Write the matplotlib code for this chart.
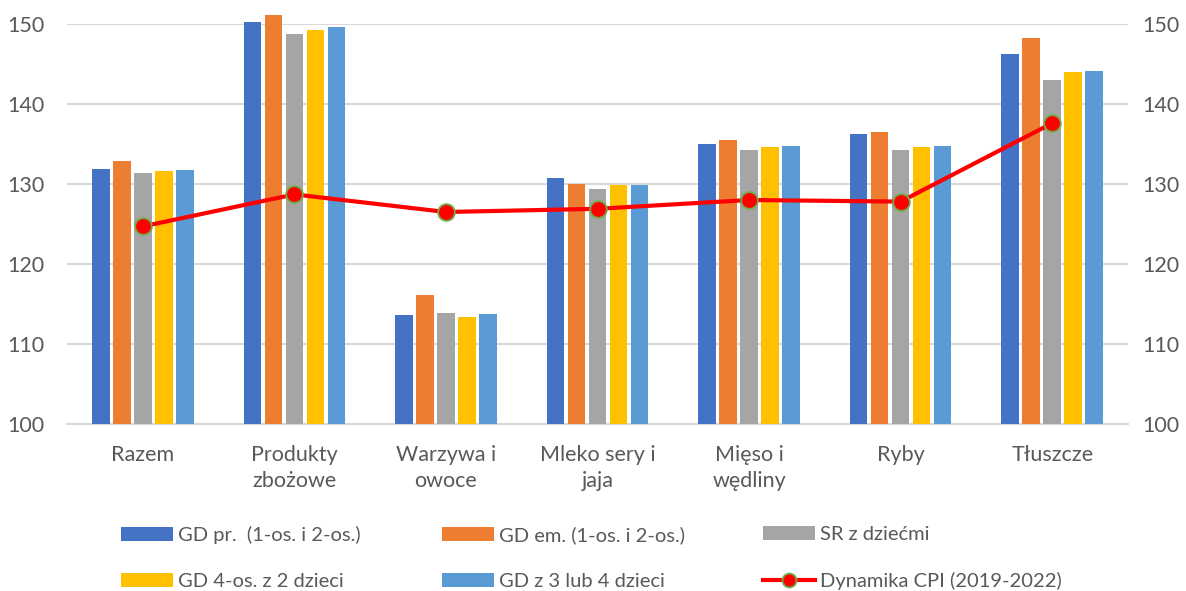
import matplotlib.pyplot as plt
from matplotlib.lines import Line2D
from matplotlib.patches import Patch
import numpy as np

plt.rcParams['font.family'] = ['Lato', 'DejaVu Sans']

categories = ['Razem', 'Produkty\nzbożowe', 'Warzywa i\nowoce', 'Mleko sery i\njaja',
              'Mięso i\nwędliny', 'Ryby', 'Tłuszcze']
series_names = ['GD pr.  (1-os. i 2-os.)', 'GD em. (1-os. i 2-os.)', 'SR z dziećmi',
                'GD 4-os. z 2 dzieci', 'GD z 3 lub 4 dzieci']
gd_pr = [131.9, 150.3, 113.6, 130.8, 135.0, 136.3, 146.2]
gd_em = [132.9, 151.1, 116.1, 130.0, 135.5, 136.5, 148.2]
sr_dzieci = [131.4, 148.7, 113.9, 129.4, 134.3, 134.3, 143.0]
gd_4os = [131.6, 149.2, 113.4, 129.9, 134.6, 134.6, 144.0]
gd_3lub4 = [131.75, 149.6, 113.75, 129.9, 134.7, 134.7, 144.1]
cpi = [124.7, 128.7, 126.5, 126.9, 128.0, 127.8, 137.6]
cpi_name = 'Dynamika CPI (2019-2022)'

colors = ['#4472C4', '#ED7D31', '#A5A5A5', '#FFC000', '#5B9BD5']
text_col = '#595959'
grid_col = '#D9D9D9'

fig = plt.figure(figsize=(11.86, 5.91), dpi=100)
ax = fig.add_axes([67 / 1186, 1 - 424 / 591, (1128 - 67) / 1186, 400 / 591])

x = np.arange(len(categories))
pitch = 0.1386
bw = 0.116
handles = []
for k, (vals, c) in enumerate(zip([gd_pr, gd_em, sr_dzieci, gd_4os, gd_3lub4], colors)):
    ax.bar(x + (k - 2) * pitch, np.array(vals) - 100, bottom=100, width=bw, color=c,
           zorder=3, clip_on=False)
    handles.append(Patch(facecolor=c, label=series_names[k]))

ax.plot(x, cpi, color='#FF0000', lw=3, marker='o', ms=12, mfc='#FF0000',
        mec='#70AD47', mew=1.3, zorder=5, clip_on=False)
handles.append(Line2D([], [], color='#FF0000', lw=3, marker='o', ms=10, mfc='#FF0000',
                      mec='#70AD47', mew=1.3, label=cpi_name))

ax.set_xlim(-0.5, len(categories) - 0.5)
ax.set_ylim(100, 150)
ax.set_yticks(range(100, 151, 10))
ax.grid(axis='y', color=grid_col, lw=1.5, zorder=0)
for s in ['top', 'right', 'left']:
    ax.spines[s].set_visible(False)
ax.spines['bottom'].set_color(grid_col)
ax.spines['bottom'].set_linewidth(1.5)
ax.set_xticks(x)
ax.set_xticklabels(categories, fontsize=15.5, color=text_col, linespacing=1.4)
ax.tick_params(axis='x', length=0, pad=15)
ax.tick_params(axis='y', length=0, pad=16, labelsize=15.5, labelcolor=text_col)

ax2 = ax.twinx()
ax2.set_ylim(100, 150)
ax2.set_yticks(range(100, 151, 10))
for s in ax2.spines.values():
    s.set_visible(False)
ax2.tick_params(axis='y', length=0, pad=10, labelsize=15.5, labelcolor=text_col)

col_x = [121, 442, 763]
for c in range(3):
    leg = fig.legend(handles=[handles[c], handles[c + 3]], loc='upper left',
                     bbox_to_anchor=(col_x[c] / 1186, 1 - 526 / 591), frameon=False,
                     fontsize=14.5, handlelength=2.6, handleheight=0.72, handletextpad=0.25,
                     labelspacing=1.42, borderpad=0, borderaxespad=0)
    for t in leg.get_texts():
        t.set_color(text_col)

fig.savefig('out.png', dpi=100)
